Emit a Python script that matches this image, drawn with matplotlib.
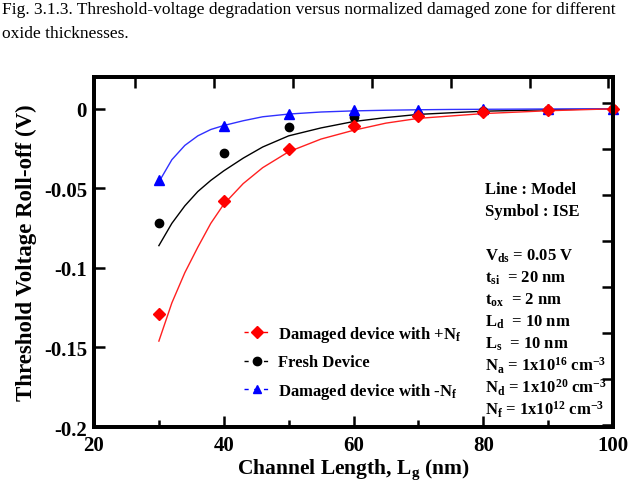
import matplotlib
matplotlib.use("Agg")
import matplotlib.pyplot as plt
from matplotlib.lines import Line2D

plt.rcParams["font.family"] = ["Liberation Serif", "DejaVu Serif"]
plt.rcParams["font.weight"] = "bold"
plt.rcParams["mathtext.fontset"] = "custom"
plt.rcParams["mathtext.rm"] = "Liberation Serif:bold"
plt.rcParams["mathtext.bf"] = "Liberation Serif:bold"
plt.rcParams["mathtext.it"] = "Liberation Serif:bold"
plt.rcParams["axes.unicode_minus"] = False

# symbols (ISE simulation)
sym_length = [30, 40, 50, 60, 70, 80, 90, 100]
sym_pos_nf = [-0.129, -0.058, -0.0255, -0.0105, -0.0045, -0.002, -0.001, 0.0]
sym_fresh = [-0.0715, -0.0275, -0.0115, -0.005, -0.003, -0.0012, -0.0005, 0.0]
sym_neg_nf = [-0.045, -0.0105, -0.003, -0.001, -0.0005, -0.0003, -0.0001, 0.0]

# model curves
model_length = [30, 32, 34, 36, 38, 40, 43, 46, 50, 55, 60, 65, 70, 75, 80, 90, 100]
model_pos_nf = [-0.146, -0.122, -0.103, -0.087, -0.072, -0.060, -0.047, -0.037,
                -0.027, -0.019, -0.0135, -0.009, -0.006, -0.0045, -0.003, -0.0012, 0.0]
model_fresh = [-0.086, -0.072, -0.061, -0.052, -0.045, -0.039, -0.031, -0.024,
               -0.017, -0.012, -0.008, -0.0055, -0.0035, -0.0025, -0.0015, -0.0006, 0.0]
model_neg_nf = [-0.046, -0.032, -0.023, -0.017, -0.013, -0.0105, -0.0075, -0.005,
                -0.0033, -0.002, -0.0013, -0.0009, -0.0006, -0.0004, -0.0003, -0.0001, 0.0]

x_ticks = [20, 40, 60, 80, 100]
x_minor = [30, 50, 70, 90]
y_ticks = [0, -0.05, -0.1, -0.15, -0.2]
y_tick_labels = ["0", "-0.05", "-0.1", "-0.15", "-0.2"]
top_ticks = [26.3, 38.5, 50.7, 62.8, 75.0, 87.2, 99.3]
right_ticks = [0.0037, -0.0252, -0.0541, -0.0831, -0.112, -0.141, -0.170, -0.199]

legend_labels = [
    r"Damaged device with +N$_{\mathbf{f}}$",
    "Fresh Device",
    r"Damaged device with -N$_{\mathbf{f}}$",
]
info_lines = [
    "Line : Model",
    "Symbol : ISE",
    "",
    r"V$_{\mathbf{ds}}$ = 0.05 V",
    r"t$_{\mathbf{si}}$  = 20 nm",
    r"t$_{\mathbf{ox}}$  = 2 nm",
    r"L$_{\mathbf{d}}$  = 10 nm",
    r"L$_{\mathbf{s}}$  = 10 nm",
    r"N$_{\mathbf{a}}$ = 1x10$^{\mathbf{16}}$ cm$^{\mathbf{-3}}$",
    r"N$_{\mathbf{d}}$ = 1x10$^{\mathbf{20}}$ cm$^{\mathbf{-3}}$",
    r"N$_{\mathbf{f}}$ = 1x10$^{\mathbf{12}}$ cm$^{\mathbf{-3}}$",
]
caption = [
    "Fig. 3.1.3. Threshold-voltage degradation versus normalized damaged zone for different",
    "oxide thicknesses.",
]

W, H = 630, 485
fig = plt.figure(figsize=(6.3, 4.85), dpi=100)
ax = fig.add_axes([94 / W, 1 - 428 / H, (613 - 94) / W, (428 - 78) / H])

ax.plot(model_length, model_fresh, color="black", lw=1.0, zorder=2)
ax.plot(model_length, model_neg_nf, color="#3030ff", lw=1.0, zorder=2)
ax.plot(model_length, model_pos_nf, color="#ff2020", lw=1.0, zorder=2)
ax.plot(sym_length, sym_fresh, "o", color="black", ms=6, zorder=3, clip_on=False)
ax.plot(sym_length, sym_neg_nf, "^", color="#0000ff", ms=7, zorder=4, clip_on=False)
ax.plot(sym_length, sym_pos_nf, "D", color="#ff0000", ms=6, zorder=5, clip_on=False)

ax.set_xlim(20, 100)
ax.set_ylim(-0.2, 0.02)
ax.set_xticks(x_ticks)
ax.set_xticks(x_minor, minor=True)
ax.set_yticks(y_ticks)
ax.set_yticklabels(y_tick_labels)
ax.tick_params(which="both", direction="in", width=1.8, labelsize=15, top=False, right=False)
ax.tick_params(which="major", length=8)
ax.tick_params(which="minor", length=5)
ax.tick_params(axis="x", pad=6)
ax.tick_params(axis="y", pad=5)
for lab in ax.get_xticklabels() + ax.get_yticklabels():
    lab.set_fontweight("bold")
for sp in ax.spines.values():
    sp.set_linewidth(2.6)

# odd tick sets on the top and right frame
tx = ax.twiny()
tx.set_xlim(ax.get_xlim())
tx.set_xticks(top_ticks)
tx.set_xticklabels([])
tx.tick_params(direction="in", length=8, width=1.8)
ty = ax.twinx()
ty.set_ylim(ax.get_ylim())
ty.set_yticks(right_ticks)
ty.set_yticklabels([])
ty.tick_params(direction="in", length=8, width=1.8)
for a in (tx, ty):
    for sp in a.spines.values():
        sp.set_linewidth(2.6)

ax.set_xlabel(r"Channel Length, L$_{\mathbf{g}}$ (nm)", fontsize=15.5, fontweight="bold", labelpad=1)
ax.set_ylabel("Threshold Voltage Roll-off (V)", fontsize=16.5, fontweight="bold", labelpad=5)

handles = [
    Line2D([], [], color="#ff0000", ls=(0, (3, 4)), lw=1.0, marker="D", ms=6),
    Line2D([], [], color="black", ls=(0, (3, 4)), lw=1.0, marker="o", ms=6),
    Line2D([], [], color="#0000ff", ls=(0, (3, 4)), lw=1.0, marker="^", ms=6),
]
leg = ax.legend(handles, legend_labels, loc="upper left",
                bbox_to_anchor=(244 / W, 1 - 325 / H), bbox_transform=fig.transFigure,
                frameon=False, fontsize=12, handlelength=1.5, handletextpad=0.55,
                labelspacing=0.62, borderpad=0, borderaxespad=0)
for t in leg.get_texts():
    t.set_fontweight("bold")

for i, line in enumerate(info_lines):
    if not line:
        continue
    fig.text(485 / W, 1 - (190 + 22 * i) / H, line, fontsize=12, fontweight="bold",
             ha="left", va="center")

fig.text(2 / W, 1 - 14 / H, caption[0], fontsize=12.5, fontweight="normal",
         ha="left", va="baseline", family="Liberation Serif")
fig.text(2 / W, 1 - 38 / H, caption[1], fontsize=12.5, fontweight="normal",
         ha="left", va="baseline", family="Liberation Serif")

fig.savefig("out.png", dpi=100)
